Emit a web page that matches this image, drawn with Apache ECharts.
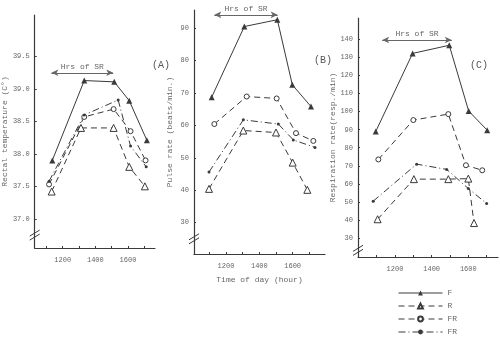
<!DOCTYPE html>
<html><head><meta charset="utf-8">
<script src="https://cdn.jsdelivr.net/npm/echarts@6/dist/echarts.min.js"></script>
<style>html,body{margin:0;padding:0;background:#fff}#c{width:500px;height:342px}</style>
</head><body><div id="c"></div>
<script>
// ---------- data ----------
const panelLabels = ['(A)', '(B)', '(C)'];
const yAxisTitles = ['Rectal temperature (C\u00b0)', 'Pulse rate (beats/min.)', 'Respiration rate(resp./min)'];
const xAxisTitle = 'Time of day (hour)';
const xTickValues = [1100, 1200, 1300, 1400, 1500, 1600, 1700];
const xLabelValues = [1200, 1400, 1600];
const yTicksA = [37.0, 37.5, 38.0, 38.5, 39.0, 39.5];
const yTicksB = [30, 40, 50, 60, 70, 80, 90];
const yTicksC = [30, 40, 50, 60, 70, 80, 90, 100, 110, 120, 130, 140];
const legendNames = ['F', 'R', 'FR', 'FR'];
const srLabel = 'Hrs of SR';
const srSpan = [1130, 1510];

// Panel A: rectal temperature
const hoursA_F   = [1136, 1332, 1516, 1608, 1716];
const tempA_F    = [37.90, 39.13, 39.11, 38.82, 38.21];
const hoursA_R   = [1132, 1312, 1512, 1608, 1704];
const tempA_R    = [37.42, 38.40, 38.40, 37.80, 37.50];
const hoursA_FR  = [1116, 1332, 1512, 1616, 1708];
const tempA_FR   = [37.53, 38.57, 38.69, 38.35, 37.90];
const hoursA_FR2 = [1116, 1332, 1540, 1616, 1712];
const tempA_FR2  = [37.58, 38.60, 38.83, 38.12, 37.80];

// Panel B: pulse rate
const hoursB_F   = [1114, 1310, 1508, 1598, 1710];
const pulseB_F   = [68.7, 90.5, 92.6, 72.5, 65.8];
const hoursB_R   = [1098, 1304, 1500, 1600, 1688];
const pulseB_R   = [40.4, 58.4, 57.8, 48.5, 40.1];
const hoursB_FR  = [1130, 1324, 1504, 1620, 1724];
const pulseB_FR  = [60.4, 68.9, 68.3, 57.6, 55.2];
const hoursB_FR2 = [1098, 1304, 1514, 1604, 1734];
const pulseB_FR2 = [45.6, 61.7, 60.4, 55.5, 53.2];

// Panel C: respiration rate
const hoursC_F   = [1095, 1296, 1496, 1602, 1703];
const respC_F    = [89.0, 132.2, 136.7, 100.3, 89.7];
const hoursC_R   = [1105, 1303, 1491, 1600, 1631];
const respC_R    = [40.4, 62.6, 62.6, 62.9, 38.3];
const hoursC_FR  = [1109, 1300, 1491, 1587, 1676];
const respC_FR   = [73.5, 95.3, 98.6, 70.3, 67.5];
const hoursC_FR2 = [1081, 1318, 1482, 1600, 1700];
const respC_FR2  = [50.4, 70.9, 68.0, 57.4, 49.1];

// ---------- layout / style ----------
const FONT = 'Liberation Mono, DejaVu Sans Mono, monospace';
const INK = '#3a3a3a';
const TXT = '#666';
const grids = [
  {left: 32, top: 15, width: 123, height: 233},
  {left: 194, top: 10, width: 131, height: 244},
  {left: 358, top: 18, width: 140, height: 239}
];
const xRanges = [[1028, 1766], [1008, 1794], [998, 1762]];
const yRanges = [[36.55, 40.14], [20.3, 95.6], [19.5, 151.8]];
const yTicks = [yTicksA, yTicksB, yTicksC];
const srY = [39.25, 94.1, 139.6];
const breakVals = [36.78, 25.6, 24.3];
const seriesIds = ['F', 'R', 'FR', 'FR2'];

const styles = {
  F:   {symbol: 'triangle', symbolSize: 6, itemStyle: {color: INK}, lineStyle: {color: INK, width: 1}},
  R:   {symbol: 'triangle', symbolSize: 7, itemStyle: {color: '#fff', borderColor: INK, borderWidth: 1}, lineStyle: {color: INK, width: 1, type: [6, 4]}},
  FR:  {symbol: 'circle', symbolSize: 5, itemStyle: {color: '#fff', borderColor: INK, borderWidth: 1}, lineStyle: {color: INK, width: 1, type: [6, 4]}},
  FR2: {symbol: 'circle', symbolSize: 3, itemStyle: {color: INK}, lineStyle: {color: INK, width: 1, type: [7, 3, 1, 3]}}
};

const panelData = [
  [[hoursA_F, tempA_F], [hoursA_R, tempA_R], [hoursA_FR, tempA_FR], [hoursA_FR2, tempA_FR2]],
  [[hoursB_F, pulseB_F], [hoursB_R, pulseB_R], [hoursB_FR, pulseB_FR], [hoursB_FR2, pulseB_FR2]],
  [[hoursC_F, respC_F], [hoursC_R, respC_R], [hoursC_FR, respC_FR], [hoursC_FR2, respC_FR2]]
];

const xAxes = grids.map((g, i) => ({
  type: 'value', gridIndex: i, min: xRanges[i][0], max: xRanges[i][1],
  name: i === 1 ? xAxisTitle : '', nameLocation: 'middle', nameGap: 22,
  nameTextStyle: {fontFamily: FONT, fontSize: 8, color: TXT},
  axisLine: {show: true, lineStyle: {color: INK, width: 1.2}},
  axisTick: {show: true, inside: true, length: 2, customValues: xTickValues, lineStyle: {color: INK}},
  axisLabel: {customValues: xLabelValues, fontFamily: FONT, fontSize: 7, color: TXT, margin: 9,
    formatter: v => String(Math.round(v))},
  splitLine: {show: false}
}));

const yAxes = grids.map((g, i) => ({
  type: 'value', gridIndex: i, min: yRanges[i][0], max: yRanges[i][1],
  name: yAxisTitles[i], nameLocation: 'middle', nameRotate: 90, nameGap: 20,
  nameTextStyle: {fontFamily: FONT, fontSize: 8, color: TXT},
  axisLine: {show: true, lineStyle: {color: INK, width: 1.2}},
  axisTick: {show: true, inside: true, length: 2, customValues: yTicks[i], lineStyle: {color: INK}},
  axisLabel: {customValues: yTicks[i], fontFamily: FONT, fontSize: 7, color: TXT, margin: 5,
    formatter: v => i === 0 ? Number(v).toFixed(1) : String(Math.round(v))},
  splitLine: {show: false}
}));

const series = [];
panelData.forEach((pd, gi) => {
  pd.forEach((pair, si) => {
    const id = seriesIds[si];
    const s = Object.assign({
      type: 'line', name: id, xAxisIndex: gi, yAxisIndex: gi,
      showAllSymbol: true, animation: false, silent: true,
      data: pair[0].map((x, k) => [x, pair[1][k]])
    }, JSON.parse(JSON.stringify(styles[id])));
    if (si === 0) {
      s.markLine = {
        silent: true, animation: false, symbol: ['arrow', 'arrow'], symbolSize: [5, 7],
        lineStyle: {color: '#666', width: 1, type: 'solid'},
        label: {show: true, position: 'insideMiddleTop', formatter: srLabel, fontFamily: FONT, fontSize: 8, color: TXT, distance: 2},
        data: [[{coord: [srSpan[0], srY[gi]]}, {coord: [srSpan[1], srY[gi]]}]]
      };
    }
    series.push(s);
  });
});

const labelPos = [[152, 60], [314, 55], [470, 60]];

const chart = echarts.init(document.getElementById('c'), null, {renderer: 'canvas'});
chart.setOption({
  backgroundColor: '#fff',
  animation: false,
  grid: grids,
  xAxis: xAxes,
  yAxis: yAxes,
  legend: {
    data: seriesIds, orient: 'vertical', left: 398, top: 289, bottom: 0, padding: 0,
    itemWidth: 44, itemHeight: 6, itemGap: 5,
    formatter: n => legendNames[seriesIds.indexOf(n)],
    lineStyle: {width: 1},
    textStyle: {fontFamily: FONT, fontSize: 8, lineHeight: 8, color: TXT}, selectedMode: false
  },
  series: series
});

// panel labels and axis break marks
const brk = [];
grids.forEach((g, i) => {
  const p = chart.convertToPixel({gridIndex: i}, [xRanges[i][0], breakVals[i]]);
  [0, 4].forEach(off => {
    brk.push({type: 'line', shape: {x1: p[0] - 5, y1: p[1] + off + 3, x2: p[0] + 5, y2: p[1] + off - 3},
      style: {stroke: INK, lineWidth: 1}});
  });
});
chart.setOption({graphic: panelLabels.map((t, i) => ({
    type: 'text', left: labelPos[i][0], top: labelPos[i][1],
    style: {text: t, fontFamily: FONT, fontSize: 10, fill: '#555'}
  })).concat(brk)});
</script></body></html>
